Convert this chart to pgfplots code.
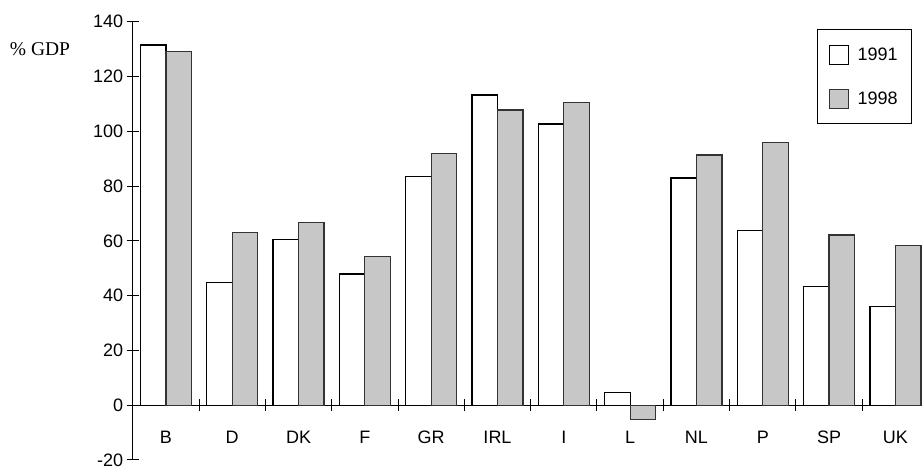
\documentclass[border=0pt]{standalone}
\usepackage{fontspec}
\setmainfont{Liberation Sans}
\newfontfamily\serif{Liberation Serif}
\usepackage{pgfplots}
\pgfplotsset{compat=1.18}

\pgfplotstableread{
idx y1991 y1998
0  131.5 129.1
1  44.7  63.0
2  60.4  66.7
3  47.9  54.4
4  83.5  92.0
5  113.2 107.8
6  102.7 110.4
7  4.6   -5.1
8  82.9  91.3
9  63.8  95.8
10 43.3  62.1
11 36.0  58.2
}\debt

\begin{document}
\begin{tikzpicture}[x=1pt,y=1pt]
\path[use as bounding box] (0,0) rectangle (922,470);
\begin{axis}[
    at={(132.7pt,10pt)}, anchor=south west,
    scale only axis,
    width=789.3pt, height=438.3pt,
    xmin=-0.5, xmax=11.4,
    ymin=-20, ymax=140,
    axis x line=middle,
    axis y line=left,
    axis line style={-, line width=1.2pt},
    ybar=0pt,
    bar width=0.385,
    xtick={0,...,11},
    xticklabels={B,D,DK,F,GR,IRL,I,L,NL,P,SP,UK},
    minor xtick={0.5,1.5,...,10.5},
    major x tick style={draw=none},
    minor tick length=12pt,
    ytick={-20,0,20,...,140},
    major tick length=12pt,
    tick align=center,
    tick style={line width=1pt, black},
    /pgf/number format/assume math mode=true,
    ticklabel style={font=\fontsize{18}{21}\selectfont},
    xticklabel style={yshift=-16pt},
    legend style={at={(0.987,0.9827)}, anchor=north east,
        draw=black, line width=1pt,
        font=\fontsize{18}{21}\selectfont,
        inner xsep=12pt, inner ysep=15pt, row sep=24pt,
        nodes={inner sep=1.5pt}},
    legend cell align=left,
    legend image code/.code={\draw[#1, line width=1pt] (0pt,-9.5pt) rectangle (19pt,9.5pt); \path (26pt,0pt);},
  ]
  \addplot[draw=black, line width=1.3pt, fill=white] table[x=idx, y=y1991] {\debt};
  \addlegendentry{1991}
  \addplot[draw=black!80, line width=1.3pt, fill=black!22] table[x=idx, y=y1998] {\debt};
  \addlegendentry{1998}
\end{axis}
\node at (40,420.7) {\serif\fontsize{19.5}{22}\selectfont \% GDP};
\end{tikzpicture}
\end{document}
